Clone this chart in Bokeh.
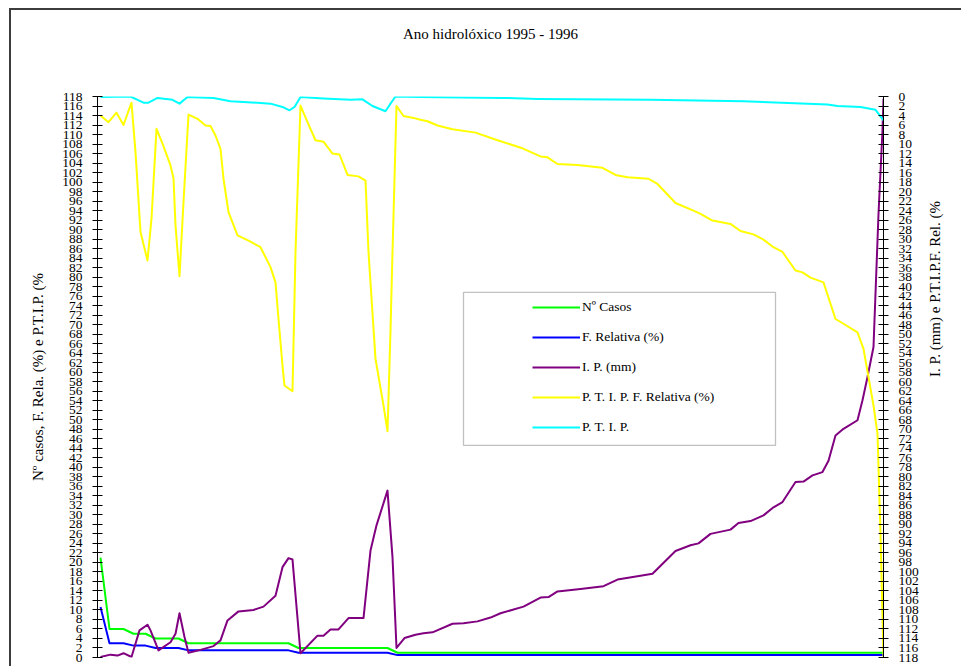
import math
from bokeh.plotting import figure
from bokeh.models import (Range1d, LinearAxis, SingleIntervalTicker, FixedTicker, Legend,
                          LegendItem, BoxAnnotation)
from bokeh.embed import file_html
from bokeh.resources import INLINE

TITLE = "Ano hidrolóxico 1995 - 1996"
LEFT_LABEL = "Nº casos, F. Rela. (%) e P.T.I.P. (%"
RIGHT_LABEL = "I. P. (mm) e P.T.I.P.F. Rel. (%"

# x = order along the hydrological year (0 .. 786)
casos_x = [3, 12, 26, 36, 48, 58, 81, 91, 191, 201, 290, 300, 786]
casos_y = [21, 6, 6, 5, 5, 4, 4, 3, 3, 2, 2, 1, 1]

frel_x = [3, 12, 26, 36, 48, 58, 81, 91, 191, 201, 290, 300, 786]
frel_y = [10.6, 3.0, 3.0, 2.5, 2.5, 2.0, 2.0, 1.5, 1.5, 1.0, 1.0, 0.5, 0.5]

ip_x = [3, 13, 20, 26, 34, 42, 50, 53, 61, 73, 78, 82, 87, 91, 103, 116, 123, 130,
        141, 156, 166, 178, 185, 191, 195, 203, 220, 226, 233, 241, 251, 266, 273,
        279, 290, 295, 299, 307, 318, 326, 335, 355, 366, 380, 393, 403, 426, 443,
        451, 460, 483, 506, 520, 543, 555, 578, 593, 601, 613, 633, 641, 653, 666,
        676, 685, 698, 706, 715, 725, 731, 738, 746, 760, 765, 770, 776, 781, 785, 786]
ip_y = [0.1, 0.6, 0.4, 0.9, 0.1, 5.7, 6.9, 5.7, 1.5, 3.2, 5.0, 9.3, 4.3, 1.0, 1.6, 2.4,
        3.6, 7.8, 9.7, 10.0, 10.7, 13.0, 19.0, 20.9, 20.6, 0.9, 4.6, 4.6, 5.9, 5.9, 8.3,
        8.3, 22.5, 27.8, 35.1, 21.1, 2.0, 4.1, 4.8, 5.1, 5.3, 7.1, 7.2, 7.6, 8.4, 9.3,
        10.7, 12.6, 12.7, 13.9, 14.4, 15.0, 16.4, 17.2, 17.6, 22.4, 23.6, 24.0, 26.0,
        26.9, 28.3, 28.7, 29.9, 31.6, 32.7, 36.9, 37.0, 38.3, 39.0, 41.4, 46.7, 48.1,
        49.9, 54.1, 59.0, 65.3, 93.3, 110.9, 117.5]

ptipf_x = [3, 11, 19, 26, 34, 38, 43, 50, 54, 59, 65, 73, 76, 78, 82, 86, 91, 100, 108,
           113, 118, 123, 126, 131, 140, 151, 163, 173, 178, 181, 185, 187, 195, 198,
           203, 210, 218, 226, 235, 242, 250, 261, 268, 271, 278, 286, 290, 293, 295,
           299, 306, 316, 323, 330, 340, 355, 378, 400, 425, 443, 450, 460, 480, 505,
           518, 530, 551, 560, 578, 596, 603, 615, 633, 643, 656, 666, 676, 685, 698,
           705, 713, 726, 738, 746, 760, 766, 776, 780, 783, 786]
ptipf_y = [114.0, 112.6, 114.6, 112.0, 116.7, 106.3, 89.5, 83.5, 92.3, 111.2, 108.1,
           103.5, 100.8, 90.9, 80.2, 95.8, 114.2, 113.3, 111.9, 111.8, 109.8, 107.0,
           100.7, 93.7, 88.8, 87.7, 86.3, 82.1, 78.9, 71.2, 61.4, 57.2, 56.0, 85.3,
           116.1, 112.6, 108.8, 108.5, 106.0, 105.8, 101.5, 101.2, 100.3, 85.3, 62.8,
           53.0, 47.6, 68.8, 85.3, 116.0, 113.9, 113.5, 113.1, 112.8, 111.9, 111.1,
           110.4, 108.8, 107.1, 105.4, 105.2, 103.8, 103.6, 103.0, 101.5, 101.0, 100.7,
           99.6, 95.6, 94.0, 93.3, 91.9, 91.2, 89.7, 89.0, 87.9, 86.3, 85.3, 81.4, 81.0,
           79.9, 78.9, 71.2, 70.2, 68.4, 64.9, 53.0, 47.1, 26.1, 0.0]

ptip_x = [3, 33, 46, 51, 60, 75, 82, 90, 116, 133, 150, 173, 185, 192, 197, 203, 226,
          253, 265, 275, 288, 293, 298, 323, 406, 440, 553, 646, 730, 740, 763, 778, 786]
ptip_y = [117.9, 118.0, 116.7, 116.7, 117.7, 117.3, 116.5, 117.9, 117.7, 117.0, 116.8,
          116.5, 115.8, 115.1, 115.8, 117.9, 117.6, 117.3, 117.4, 116.0, 114.9, 116.5,
          118.0, 117.9, 117.7, 117.5, 117.3, 117.0, 116.3, 116.0, 115.8, 115.2, 113.0]

series = [
    ("Nº Casos", casos_x, casos_y, "#00ff00"),
    ("F. Relativa (%)", frel_x, frel_y, "#0000ff"),
    ("I. P. (mm)", ip_x, ip_y, "#800080"),
    ("P. T. I. P. F. Relativa (%)", ptipf_x, ptipf_y, "#ffff00"),
    ("P. T. I. P.", ptip_x, ptip_y, "#00ffff"),
]

SERIF = "Liberation Serif"

p = figure(width=952, height=658, output_backend="svg", toolbar_location=None,
           x_range=Range1d(0, 786), y_range=Range1d(0, 118),
           min_border_left=86, min_border_right=80, min_border_top=86,
           min_border_bottom=11)
p.margin = (8, 0, 0, 9)
p.styles = {"border-left": "2px solid #3c3c3c", "border-top": "2px solid #3c3c3c"}
p.extra_y_ranges = {"right": Range1d(start=118, end=0)}

p.outline_line_color = None
p.xgrid.visible = False
p.ygrid.visible = False
p.xaxis.visible = False
p.background_fill_color = "white"
p.border_fill_color = "white"
p.title.visible = False

# chart title, carried by an axis above the frame without ticks
top = LinearAxis(ticker=FixedTicker(ticks=[]), axis_line_color=None,
                 major_tick_line_color=None, minor_tick_line_color=None,
                 major_tick_in=0, major_tick_out=0, major_label_standoff=0,
                 axis_label=TITLE, axis_label_standoff=55,
                 axis_label_text_font=SERIF, axis_label_text_font_size="15px",
                 axis_label_text_font_style="normal", axis_label_text_color="black")
p.add_layout(top, "above")

yr = LinearAxis(y_range_name="right")
p.add_layout(yr, "right")

for ax, lab in ((p.yaxis[0], LEFT_LABEL), (yr, RIGHT_LABEL)):
    ax.ticker = SingleIntervalTicker(interval=2, num_minor_ticks=0)
    ax.minor_tick_line_color = None
    ax.major_tick_in = 5
    ax.major_tick_out = 5
    ax.major_tick_line_color = "black"
    ax.axis_line_color = "black"
    ax.major_label_text_font = SERIF
    ax.major_label_text_font_size = "13.5px"
    ax.major_label_text_color = "black"
    ax.major_label_standoff = 10
    ax.axis_label = lab
    ax.axis_label_text_font = SERIF
    ax.axis_label_text_font_size = "15px"
    ax.axis_label_text_font_style = "normal"
    ax.axis_label_text_color = "black"
    ax.axis_label_standoff = 13

try:
    yr.axis_label_orientation = math.pi / 2
except Exception:
    pass

renderers = []
for name, xs, ys, col in series:
    r = p.line(xs, ys, line_color=col, line_width=2, line_join="round")
    renderers.append((name, r))

# legend frame (layout only)
LEG_LEFT, LEG_RIGHT, LEG_BOTTOM, LEG_TOP = 366, 678, 44.6, 76.8
p.add_layout(BoxAnnotation(left=LEG_LEFT, right=LEG_RIGHT, bottom=LEG_BOTTOM, top=LEG_TOP,
                           fill_color="white", fill_alpha=1.0,
                           line_color="#333333", line_width=1.3))

legend = Legend(items=[LegendItem(label=n, renderers=[r]) for n, r in renderers],
                location=(429, 214), margin=0, padding=6, spacing=10,
                glyph_width=48, glyph_height=20, label_height=20, label_standoff=2,
                label_text_font=SERIF, label_text_font_size="13.5px",
                label_text_color="black",
                background_fill_alpha=0, border_line_alpha=0)
p.add_layout(legend, "center")

open("out.html", "w").write(file_html(p, INLINE))
